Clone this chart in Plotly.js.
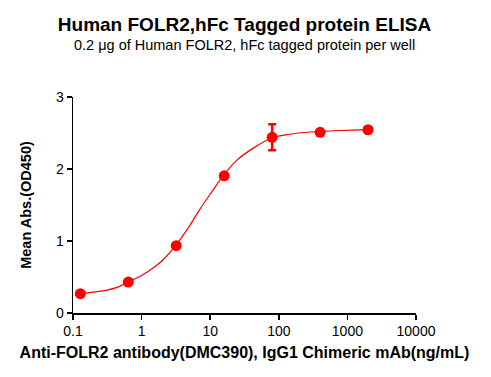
<!DOCTYPE html>
<html>
<head>
<meta charset="utf-8">
<script src="https://cdn.plot.ly/plotly-3.0.1.min.js"></script>
<style>html,body{margin:0;padding:0;background:#fff;}#chart{width:491px;height:377px;}</style>
</head>
<body>
<div id="chart"></div>
<script>
// Measured points (concentration ng/mL, mean OD450, error)
const conc = [0.128, 0.64, 3.2, 16, 80, 400, 2000];
const od = [0.268, 0.43, 0.935, 1.905, 2.44, 2.51, 2.545];
const err = [0, 0, 0, 0.03, 0.18, 0, 0];
// Fitted curve
const curveX = [0.125, 0.2, 0.3, 0.45, 0.63, 0.94, 1.47, 2.06, 3.13, 5.0, 7.05, 10.5, 15.6, 24.3, 42.5, 78.7, 120, 193, 378, 800, 2000];
const curveY = [0.27, 0.29, 0.315, 0.36, 0.43, 0.508, 0.625, 0.74, 0.935, 1.21, 1.44, 1.68, 1.91, 2.12, 2.29, 2.43, 2.47, 2.50, 2.52, 2.535, 2.546];
const xTicks = [0.1, 1, 10, 100, 1000, 10000];
const xTickText = ['0.1', '1', '10', '100', '1000', '10000'];
const yTicks = [0, 1, 2, 3];

const red = '#FF0000';
const traces = [
  {x: curveX, y: curveY, type: 'scatter', mode: 'lines', line: {color: red, width: 1.2, shape: 'spline', smoothing: 1}, hoverinfo: 'skip'},
  {x: conc, y: od, type: 'scatter', mode: 'markers', marker: {color: red, size: 11},
   error_y: {type: 'data', array: err, visible: true, color: red, thickness: 2.5, width: 4}}
];
const font = 'Arial, "Liberation Sans", sans-serif';
const layout = {
  width: 491, height: 377,
  margin: {l: 73, r: 75, t: 97, b: 64},
  paper_bgcolor: '#fff', plot_bgcolor: '#fff',
  showlegend: false,
  font: {family: font, color: '#000', size: 13},
  title: {text: '<b>Human FOLR2,hFc Tagged protein ELISA</b>', font: {family: font, size: 19, color: '#000'}, x: 0.5, xref: 'paper', xanchor: 'center', y: 1 - 24/377, yref: 'container', yanchor: 'middle'},
  annotations: [{text: '0.2 μg of Human FOLR2, hFc tagged protein per well', xref: 'paper', yref: 'paper', x: 0.5, y: (313 - 45) / 216, xanchor: 'center', yanchor: 'middle', showarrow: false, font: {family: font, size: 14.5, color: '#000'}}],
  xaxis: {
    type: 'log', range: [-1, 4], tickvals: xTicks, ticktext: xTickText,
    showline: true, linecolor: '#000', linewidth: 1.5, ticks: 'outside', ticklen: 5, tickwidth: 1.5, tickcolor: '#000',
    showgrid: false, zeroline: false, tickfont: {size: 14},
    title: {text: '<b>Anti-FOLR2 antibody(DMC390), IgG1 Chimeric mAb(ng/mL)</b>', font: {size: 16}, standoff: 8}
  },
  yaxis: {
    range: [0, 3], tickvals: yTicks, showline: true, linecolor: '#000', linewidth: 1.5, ticks: 'outside', ticklen: 5, tickwidth: 1.5, tickcolor: '#000',
    showgrid: false, zeroline: false, tickfont: {size: 14},
    title: {text: '<b>Mean Abs.(OD450)</b>', font: {size: 14.5}, standoff: 21}
  }
};
Plotly.newPlot('chart', traces, layout, {displayModeBar: false, staticPlot: true});
</script>
</body>
</html>
